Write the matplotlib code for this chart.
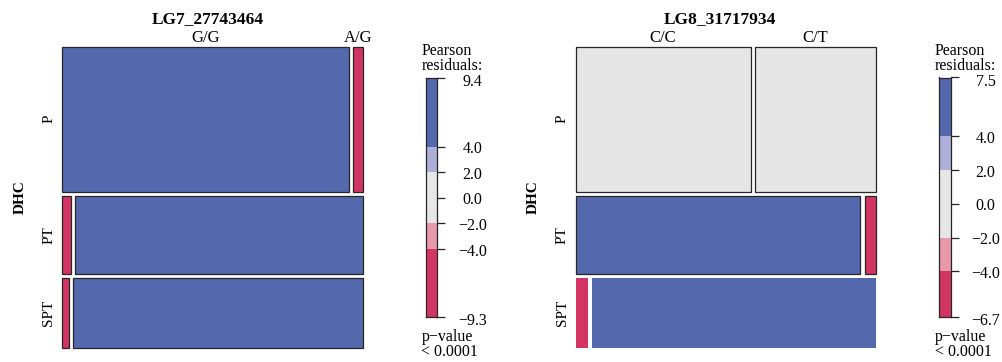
import matplotlib
matplotlib.use("Agg")
import matplotlib.pyplot as plt
from matplotlib.patches import Rectangle
from matplotlib.transforms import blended_transform_factory as blend

plt.rcParams['font.family'] = ['Liberation Serif', 'DejaVu Serif']

# ---------------- data ----------------
row_var = "DHC"
row_levels = ["P", "PT", "SPT"]
row_shares = [49.5, 26.8, 23.7]          # share of samples in each DHC group

left_title = "LG7_27743464"
left_levels = ["G/G", "A/G"]
left_shares = [[96.8, 3.2], [2.8, 97.2], [2.2, 97.8]]     # genotype share within row
left_resid = [[5.6, -9.3], [-7.2, 9.4], [-6.4, 8.6]]      # Pearson residuals
left_range = [-9.3, 9.4]

right_title = "LG8_31717934"
right_levels = ["C/C", "C/T"]
right_shares = [[59.1, 40.9], [96.1, 3.9], [4.1, 95.9]]
right_resid = [[-1.1, 1.3], [6.2, -6.7], [-6.3, 7.5]]
right_range = [-6.7, 7.5]
right_no_border_rows = ["SPT"]

legend_breaks = [-4.0, -2.0, 2.0, 4.0]
legend_ticks = [4.0, 2.0, 0.0, -2.0, -4.0]
legend_title = "Pearson\nresiduals:"
p_value_text = "p\u2212value\n< 0.0001"

# ---------------- style ----------------
W, H = 1003, 362
C_BLUE, C_LBLUE, C_GREY, C_PINK, C_RED = "#5468ad", "#adafd9", "#e6e6e6", "#e899a9", "#d23564"
EDGE = "#262626"
FS_TITLE, FS_LAB, FS_ROT, FS_LEG = 12.5, 12.0, 11.0, 11.5


def shade(r):
    if r > 4:
        return C_BLUE
    if r > 2:
        return C_LBLUE
    if r >= -2:
        return C_GREY
    if r >= -4:
        return C_PINK
    return C_RED


def fx(p):
    return p / W


def fy(p):
    return 1 - p / H


fig = plt.figure(figsize=(W / 100, H / 100), dpi=100)


def mosaic(x0, title, col_levels, shares, resid, no_border=()):
    ax = fig.add_axes([fx(x0), fy(347.7), 300.4 / W, 301.0 / H])
    ax.set_xlim(0, 1)
    ax.set_ylim(1, 0)
    ax.axis("off")
    gx, gy = 4.4 / 300.4, 4.2 / 301.0
    n = len(row_levels)
    avail_y = 1 - gy * (n - 1)
    tot = sum(row_shares)
    y = 0.0
    top_centers = []
    for i, rname in enumerate(row_levels):
        h = row_shares[i] / tot * avail_y
        m = len(col_levels)
        avail_x = 1 - gx * (m - 1)
        ctot = sum(shares[i])
        x = 0.0
        for j in range(m):
            w = shares[i][j] / ctot * avail_x
            ec = "none" if rname in no_border else EDGE
            ax.add_patch(Rectangle((x, y), w, h, facecolor=shade(resid[i][j]),
                                   edgecolor=ec, linewidth=0.9, clip_on=False))
            if i == 0:
                top_centers.append(x + w / 2)
            x += w + gx
        ax.text(fx(x0 - 13.3), y + h / 2, rname, rotation=90, ha="center", va="center",
                fontsize=FS_ROT, transform=blend(fig.transFigure, ax.transData))
        y += h + gy
    for c, lab in zip(top_centers, col_levels):
        ax.text(c, fy(42.3), lab, ha="center", va="baseline", fontsize=FS_LAB,
                transform=blend(ax.transData, fig.transFigure))
    fig.text(fx(x0 + 145.7 - (0 if x0 < 300 else 1.5)), fy(23.3), title, ha="center",
             va="baseline", fontsize=FS_TITLE, fontweight="bold")
    fig.text(fx(x0 - 42.3), 0.5 * (fy(46.7) + fy(347.7)), row_var, rotation=90,
             ha="center", va="center", fontsize=FS_ROT, fontweight="bold")


def fmt(v):
    return f"{v:.1f}".replace("-", "\u2212")


def legend(bx, rng):
    lo, hi = rng
    lax = fig.add_axes([fx(bx), fy(316.7), 11.3 / W, 239.2 / H])
    lax.set_xlim(0, 1)
    lax.set_ylim(lo, hi)
    edges = [lo] + [b for b in legend_breaks if lo < b < hi] + [hi]
    for a, b in zip(edges[:-1], edges[1:]):
        lax.bar(0.5, b - a, bottom=a, width=1.0, color=shade((a + b) / 2), linewidth=0)
    for s in lax.spines.values():
        s.set_linewidth(0.9)
        s.set_color(EDGE)
    ticks = [hi] + legend_ticks + [lo]
    lax.set_xticks([])
    lax.yaxis.tick_right()
    lax.set_yticks(ticks)
    lax.set_yticklabels([])
    lax.tick_params(axis="y", length=5.8, width=0.9, color=EDGE, direction="out")
    cx = fx(bx + 11.3 + 35.0)
    for k, t in enumerate(ticks):
        off = 4.5 if k in (0, len(ticks) - 1) else 2.6
        ty = lax.transData.transform((0, t))[1] - off
        fig.text(cx, ty / H, fmt(t), ha="center", va="center", fontsize=FS_LEG)
    fig.text(fx(bx - 4.7), fy(69.8), legend_title, ha="left", va="baseline",
             multialignment="left", linespacing=0.86, fontsize=FS_LEG)
    fig.text(fx(bx - 4.7), fy(355.5), p_value_text, ha="left", va="baseline",
             multialignment="left", linespacing=0.86, fontsize=FS_LEG)


mosaic(62.3, left_title, left_levels, left_shares, left_resid)
legend(426.0, left_range)
mosaic(575.7, right_title, right_levels, right_shares, right_resid, right_no_border_rows)
legend(939.3, right_range)

fig.savefig("out.png", dpi=100)
